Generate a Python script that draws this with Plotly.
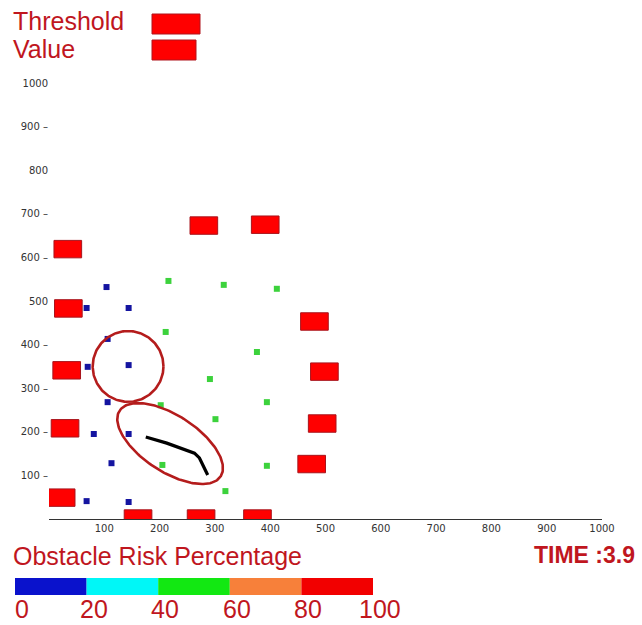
import numpy as np
import plotly.graph_objects as go

# ---- obstacle positions grouped by risk level ----
low_x = [104, 68, 144, 106, 70, 144, 106, 81, 144, 113, 68, 144]
low_y = [532, 484, 484, 413, 349, 353, 268, 195, 195, 128, 41, 39]

mid_x = [216, 316, 412, 211, 376, 291, 202, 394, 301, 205, 394, 319]
mid_y = [546, 537, 528, 429, 383, 321, 261, 268, 229, 124, 122, 64]

high_x = [280, 391, 34, 35, 480, 498, 32, 494, 29, 475, 22, 161, 275, 377]
high_y = [673, 675, 619, 483, 453, 338, 341, 219, 208, 126, 49, 1, 1, 1]

# ---- robot trajectory ----
path_x = [175, 213, 263, 272, 287]
path_y = [188, 174, 151, 140, 101]

# ---- risk zones (centre, semi-axes in x units, tilt in degrees) ----
zone_cx = [143, 219]
zone_cy = [350, 173]
zone_a = [64, 109]
zone_b = [64, 51]
zone_angle = [0, -33]

# ---- axis ticks ----
tick_vals = [100, 200, 300, 400, 500, 600, 700, 800, 900, 1000]
x_tick_text = ["100", "200", "300", "400", "500", "600", "700", "800", "900", "1000"]
y_tick_text = ["100 –", "200 –", "300 –", "400 –", "500", "600 –", "700 –", "800", "900 –", "1000"]

# ---- risk colour scale ----
risk_bins = [0, 20, 40, 60, 80, 100]
risk_colors = ["#0a12cc", "#00f7f7", "#12e812", "#f7803a", "#f20000"]

sim_time = 3.9

# ---- layout geometry ----
W, H = 642, 625
ML, MR, MT, MB = 49, 40, 83, 106
PW, PH = W - ML - MR, H - MT - MB
X_PX = PW / 1000.0
Y_PX = PH / 1000.0
BOX_HW, BOX_HH = 25, 20
TEXT_RED = "#c0161e"
LABEL_FONT = "Liberation Sans, Arial, sans-serif"


def paper_x(px):
    return (px - ML) / PW


def paper_y(py):
    return (H - MB - py) / PH


fig = go.Figure()

# high-risk obstacles as filled rectangles
bx, by = [], []
for cx, cy in zip(high_x, high_y):
    bx += [cx - BOX_HW, cx + BOX_HW, cx + BOX_HW, cx - BOX_HW, cx - BOX_HW, None]
    by += [cy - BOX_HH, cy - BOX_HH, cy + BOX_HH, cy + BOX_HH, cy - BOX_HH, None]
fig.add_trace(go.Scatter(x=bx, y=by, mode="lines", fill="toself",
                         fillcolor="#ff0000", line=dict(color="#a8141c", width=1),
                         hoverinfo="skip"))

# low and medium risk obstacles
fig.add_trace(go.Scatter(x=low_x, y=low_y, mode="markers",
                         marker=dict(symbol="square", size=6, color="#1414a0")))
fig.add_trace(go.Scatter(x=mid_x, y=mid_y, mode="markers",
                         marker=dict(symbol="square", size=6, color="#3cd23c")))

# risk zones drawn as (rotated) ellipses in screen proportion
t = np.linspace(0, 2 * np.pi, 181)
for cx, cy, a, b, ang in zip(zone_cx, zone_cy, zone_a, zone_b, zone_angle):
    th = np.deg2rad(ang)
    ex = a * X_PX * np.cos(t) * np.cos(th) - b * X_PX * np.sin(t) * np.sin(th)
    ey = a * X_PX * np.cos(t) * np.sin(th) + b * X_PX * np.sin(t) * np.cos(th)
    fig.add_trace(go.Scatter(x=cx + ex / X_PX, y=cy + ey / Y_PX, mode="lines",
                             line=dict(color="#b41c1c", width=2.6),
                             hoverinfo="skip"))

# trajectory
fig.add_trace(go.Scatter(x=path_x, y=path_y, mode="lines",
                         line=dict(color="#000000", width=3.2)))

shapes = []
annotations = []

# legend swatches
for (x0, x1, y0, y1) in [(152, 200, 14, 34), (152, 196, 40, 60)]:
    shapes.append(dict(type="rect", xref="paper", yref="paper",
                       x0=paper_x(x0), x1=paper_x(x1), y0=paper_y(y1), y1=paper_y(y0),
                       fillcolor="#ff0000", line=dict(color="#b0141c", width=1)))
annotations.append(dict(text="Threshold", x=paper_x(11), y=paper_y(21), xref="paper",
                        yref="paper", xanchor="left", yanchor="middle", showarrow=False,
                        font=dict(family=LABEL_FONT, size=25, color=TEXT_RED)))
annotations.append(dict(text="Value", x=paper_x(11), y=paper_y(49), xref="paper",
                        yref="paper", xanchor="left", yanchor="middle", showarrow=False,
                        font=dict(family=LABEL_FONT, size=25, color=TEXT_RED)))

# colour scale for obstacle risk
BAR_L, BAR_R, BAR_T, BAR_B = 15, 373, 578, 595
for i, col in enumerate(risk_colors):
    x0 = BAR_L + risk_bins[i] / 100 * (BAR_R - BAR_L)
    x1 = BAR_L + risk_bins[i + 1] / 100 * (BAR_R - BAR_L)
    shapes.append(dict(type="rect", xref="paper", yref="paper",
                       x0=paper_x(x0), x1=paper_x(x1), y0=paper_y(BAR_B), y1=paper_y(BAR_T),
                       fillcolor=col, line=dict(width=0)))
for v in risk_bins:
    px = BAR_L + v / 100 * (BAR_R - BAR_L)
    annotations.append(dict(text=str(v), x=paper_x(px), y=paper_y(609), xref="paper",
                            yref="paper", xanchor="center", yanchor="middle", xshift=7,
                            showarrow=False,
                            font=dict(family=LABEL_FONT, size=25, color=TEXT_RED)))

annotations.append(dict(text="Obstacle Risk Percentage", x=paper_x(11), y=paper_y(556),
                        xref="paper", yref="paper", xanchor="left", yanchor="middle",
                        showarrow=False,
                        font=dict(family=LABEL_FONT, size=25, color=TEXT_RED)))
annotations.append(dict(text=f"<b>TIME :{sim_time}</b>", x=paper_x(637), y=paper_y(555),
                        xref="paper", yref="paper", xanchor="right", yanchor="middle",
                        showarrow=False,
                        font=dict(family=LABEL_FONT, size=23, color=TEXT_RED)))

fig.update_layout(
    width=W, height=H, autosize=False,
    margin=dict(l=ML, r=MR, t=MT, b=MB, pad=0),
    paper_bgcolor="white", plot_bgcolor="white",
    showlegend=False,
    shapes=shapes, annotations=annotations,
    xaxis=dict(range=[0, 1000], tickvals=tick_vals, ticktext=x_tick_text,
               showgrid=False, zeroline=False, showline=True, linecolor="#333333",
               linewidth=1, ticks="", tickfont=dict(family="DejaVu Sans", size=10,
                                                   color="#333333")),
    yaxis=dict(range=[0, 1000], tickvals=tick_vals, ticktext=y_tick_text,
               showgrid=False, zeroline=False, showline=False, ticks="",
               tickfont=dict(family="DejaVu Sans", size=10, color="#333333")),
)

fig.write_html("out.html")
